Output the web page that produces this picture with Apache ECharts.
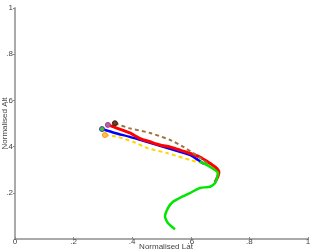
<!DOCTYPE html>
<html><head><meta charset="utf-8">
<script src="https://cdn.jsdelivr.net/npm/echarts@6/dist/echarts.min.js"></script>
<style>html,body{margin:0;padding:0;background:#fff}#c{width:316px;height:252px}</style>
</head><body><div id="c"></div>
<script>
const xTicks = [0, 0.2, 0.4, 0.6, 0.8, 1];
const yTicks = [0, 0.2, 0.4, 0.6, 0.8, 1];
const yellowLat = [0.307,0.347,0.403,0.451,0.519,0.597,0.659,0.686,0.693,0.686];
const yellowAlt = [0.450,0.443,0.421,0.394,0.372,0.342,0.320,0.294,0.273,0.251];
const brownLat = [0.341,0.392,0.461,0.529,0.573,0.608,0.642,0.659];
const brownAlt = [0.501,0.479,0.459,0.429,0.400,0.372,0.342,0.325];
const blueLat = [0.297,0.341,0.392,0.427,0.461,0.495,0.529,0.563,0.597,0.625,0.645];
const blueAlt = [0.476,0.459,0.442,0.429,0.416,0.403,0.390,0.377,0.364,0.342,0.325];
const redLat = [0.317,0.341,0.392,0.427,0.461,0.495,0.529,0.563,0.597,0.631,0.659,0.683,0.696,0.693,0.683];
const redAlt = [0.494,0.483,0.459,0.435,0.421,0.407,0.398,0.385,0.371,0.355,0.333,0.312,0.290,0.273,0.247];
const greenLat = [0.631,0.648,0.672,0.693,0.689,0.683,0.666,0.631,0.597,0.570,0.539,0.522,0.512,0.522,0.546];
const greenAlt = [0.335,0.325,0.307,0.286,0.264,0.242,0.226,0.221,0.199,0.183,0.161,0.134,0.097,0.069,0.042];

function build(lat, alt, mk, mkBorder) {
  return lat.map((x, i) => {
    const d = {value: [x, alt[i]]};
    if (i === 0 && mk) {
      d.symbol = 'circle'; d.symbolSize = 5;
      d.itemStyle = {color: mk, borderColor: mkBorder, borderWidth: 1};
    }
    return d;
  });
}
function ser(name, lat, alt, color, width, type, mk, mkB, z) {
  return {name, type: 'line', data: build(lat, alt, mk, mkB), symbol: 'none', showSymbol: true,
    smooth: 0.2, z, lineStyle: {color, width, type}, itemStyle: {color}, silent: true, animation: false};
}
const fmt = v => v === 0 ? '0' : (v === 1 ? '1' : String(v).replace(/^0/, ''));
const chart = echarts.init(document.getElementById('c'), null, {renderer: 'canvas'});
chart.setOption({
  animation: false,
  grid: {left: 15, right: 8, top: 8, bottom: 13, containLabel: false, outerBoundsMode: 'none'},
  xAxis: {type: 'value', min: 0, max: 1, interval: 0.2,
    name: 'Normalised Lat', nameLocation: 'middle', nameGap: 4, nameMoveOverlap: false,
    nameTextStyle: {fontFamily: 'Liberation Sans', fontSize: 8, color: '#444', padding: [0, 0, 0, 9]},
    axisLine: {lineStyle: {color: '#aaa', width: 2}},
    axisTick: {show: true, inside: true, length: 2, lineStyle: {color: '#888'}},
    axisLabel: {formatter: fmt, margin: -1, fontFamily: 'Liberation Sans', fontSize: 8, color: '#444'},
    splitLine: {show: false}},
  yAxis: {type: 'value', min: 0, max: 1, interval: 0.2,
    name: 'Normalised Alt', nameLocation: 'middle', nameGap: 6, nameRotate: 90, nameMoveOverlap: false,
    nameTextStyle: {fontFamily: 'Liberation Sans', fontSize: 8, color: '#444'},
    axisLine: {show: true, lineStyle: {color: '#aaa', width: 2}},
    axisTick: {show: true, length: 2, lineStyle: {color: '#888'}},
    axisLabel: {formatter: fmt, margin: 2, showMinLabel: false, fontFamily: 'Liberation Sans', fontSize: 8, color: '#444'},
    splitLine: {show: false}},
  series: [
    ser('yellow', yellowLat, yellowAlt, '#ffd700', 2, [4, 3], '#ffc060', '#ff9900', 1),
    ser('blue', blueLat, blueAlt, '#0000ff', 2.5, 'solid', '#44bb44', '#444488', 2),
    ser('red', redLat, redAlt, '#ff0000', 3, 'solid', '#9966cc', '#cc3366', 3),
    ser('brown', brownLat, brownAlt, '#a07040', 2, [4, 3], '#6b4020', '#3a2010', 4),
    ser('green', greenLat, greenAlt, '#00e600', 2.5, 'solid', null, null, 5)
  ]
});
</script></body></html>
